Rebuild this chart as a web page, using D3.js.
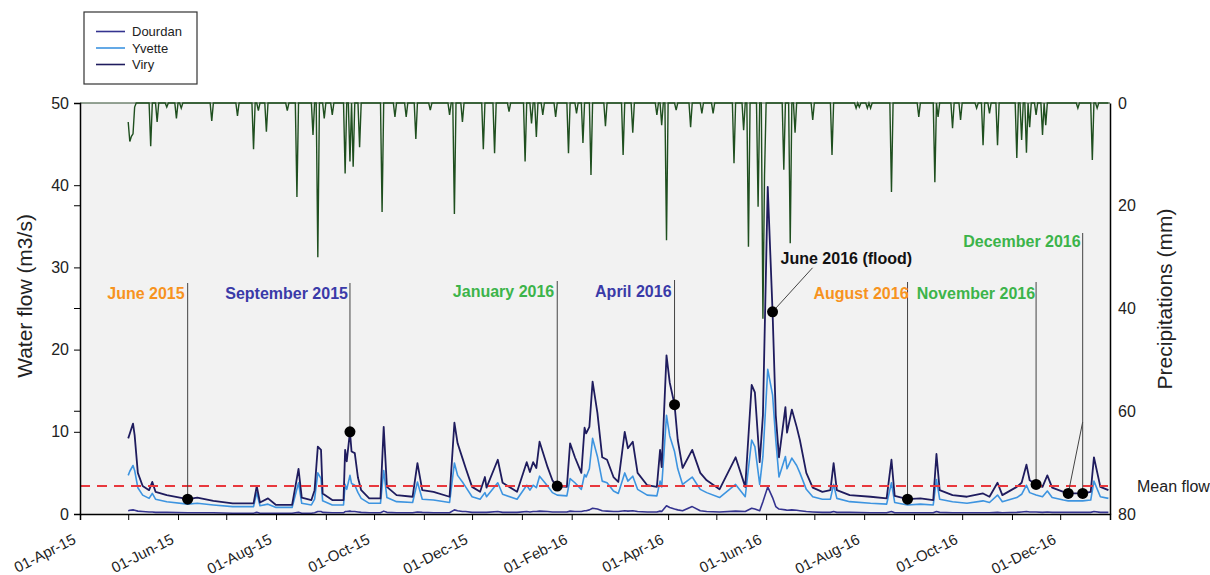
<!DOCTYPE html>
<html>
<head>
<meta charset="utf-8">
<script src="https://cdn.jsdelivr.net/npm/d3@7"></script>
<style>
  body { margin: 0; background: #fff; }
  svg { font-family: Arial, "Liberation Sans", sans-serif; }
</style>
</head>
<body>
<div id="my_dataviz"></div>
<script>
// ---- data ----
var flowDates = [
  "2015-05-01","2015-05-02","2015-05-04","2015-05-05","2015-05-07","2015-05-10","2015-05-14","2015-05-16","2015-05-18","2015-05-25",
  "2015-06-07","2015-06-13","2015-06-23","2015-07-05","2015-07-18","2015-07-20","2015-07-22","2015-07-27","2015-08-01","2015-08-11",
  "2015-08-15","2015-08-17","2015-08-23","2015-08-25","2015-08-27","2015-08-29","2015-08-30","2015-09-05","2015-09-12","2015-09-13",
  "2015-09-14","2015-09-16","2015-09-17","2015-09-19","2015-09-21","2015-09-23","2015-09-28","2015-10-05","2015-10-07","2015-10-09",
  "2015-10-15","2015-10-25","2015-10-28","2015-10-31","2015-11-07","2015-11-17","2015-11-20","2015-11-22","2015-11-25","2015-11-27",
  "2015-12-01","2015-12-06","2015-12-09","2015-12-10","2015-12-17","2015-12-20","2015-12-29","2016-01-04","2016-01-06","2016-01-08",
  "2016-01-10","2016-01-12","2016-01-17","2016-01-20","2016-01-23","2016-01-29","2016-01-31","2016-02-03","2016-02-07","2016-02-09",
  "2016-02-10","2016-02-12","2016-02-14","2016-02-17","2016-02-20","2016-02-23","2016-02-27","2016-03-01","2016-03-05","2016-03-07",
  "2016-03-10","2016-03-13","2016-03-19","2016-03-25","2016-03-27","2016-03-28","2016-03-31","2016-04-02","2016-04-05","2016-04-07",
  "2016-04-10","2016-04-16","2016-04-21","2016-04-25","2016-05-03","2016-05-13","2016-05-19","2016-05-23","2016-05-25","2016-05-28",
  "2016-05-30","2016-06-02","2016-06-05","2016-06-07","2016-06-09","2016-06-13","2016-06-14","2016-06-17","2016-06-20","2016-06-22",
  "2016-06-26","2016-06-30","2016-07-06","2016-07-11","2016-07-13","2016-07-15","2016-07-23","2016-08-05","2016-08-15","2016-08-18",
  "2016-08-20","2016-08-28","2016-09-05","2016-09-13","2016-09-15","2016-09-17","2016-09-25","2016-10-04","2016-10-14","2016-10-18",
  "2016-10-23","2016-10-26","2016-11-04","2016-11-07","2016-11-10","2016-11-12","2016-11-16","2016-11-20","2016-11-23","2016-11-26",
  "2016-12-03","2016-12-06","2016-12-15","2016-12-20","2016-12-22","2016-12-26","2016-12-31"
];
var viryFlow = [
  9.2,9.8,11.0,9.6,5.0,3.4,2.9,3.9,2.7,2.3,
  1.8,2.0,1.6,1.3,1.3,3.4,1.4,1.9,1.1,1.1,
  5.5,2.0,1.7,2.9,8.2,7.8,2.5,1.7,1.7,7.8,
  6.4,10.0,7.6,7.4,4.4,2.9,1.9,1.9,10.6,3.3,
  2.3,2.1,6.2,2.9,2.7,2.1,11.1,8.6,6.8,5.6,
  3.3,2.7,4.5,3.2,6.6,3.8,2.7,6.3,5.1,6.3,
  5.6,8.8,5.7,4.1,3.4,3.3,8.6,6.9,5.0,10.5,
  9.8,10.6,16.1,12.3,6.9,6.6,4.5,3.9,10.0,8.0,
  8.8,5.0,3.5,3.3,7.8,5.7,19.3,16.0,13.3,9.0,
  5.6,7.8,5.0,4.1,3.0,6.9,3.3,15.7,14.8,6.3,
  12.0,39.8,24.6,12.0,6.9,13.0,9.9,12.7,10.6,9.0,
  5.0,3.2,2.7,2.9,6.2,2.9,2.3,2.1,1.9,6.6,
  2.2,1.8,1.9,1.7,7.3,2.9,2.3,2.1,2.5,2.1,
  3.8,2.3,3.3,3.8,6.0,4.1,3.6,3.3,4.7,3.2,
  2.7,2.5,2.5,2.7,6.9,3.3,2.9
];
var yvetteFlow = [
  4.7,5.2,5.9,5.3,3.2,2.3,1.9,2.5,1.8,1.5,
  1.2,1.3,1.1,0.9,0.9,2.6,1.0,1.2,0.8,0.8,
  3.8,1.3,1.1,1.8,5.0,4.3,1.6,1.1,1.1,3.6,
  3.0,4.7,3.7,3.5,2.6,1.9,1.3,1.3,5.3,2.0,
  1.5,1.4,3.9,1.8,1.7,1.4,6.2,4.7,3.9,3.3,
  2.1,1.8,2.6,2.1,3.8,2.4,1.8,3.5,2.9,3.5,
  3.2,4.6,3.4,2.6,2.3,2.2,4.3,3.8,3.0,4.8,
  4.5,5.5,9.2,7.0,4.0,3.8,2.8,2.5,5.0,4.0,
  4.6,3.0,2.3,2.2,4.0,3.3,12.0,9.5,7.6,5.5,
  3.6,4.5,3.0,2.6,2.0,3.6,2.1,9.0,8.2,3.6,
  7.0,17.6,14.5,9.0,4.5,7.0,5.5,6.8,5.9,5.0,
  3.0,2.1,1.8,1.8,3.6,1.9,1.5,1.3,1.2,3.8,
  1.4,1.1,1.2,1.1,4.2,1.8,1.5,1.3,1.6,1.4,
  2.3,1.5,2.0,2.4,3.5,2.6,2.3,2.1,2.8,2.0,
  1.7,1.6,1.6,1.7,4.0,2.1,1.9
];
var dourdanFlow = [
  0.4,0.45,0.5,0.45,0.35,0.3,0.25,0.25,0.2,0.2,
  0.15,0.15,0.15,0.1,0.1,0.2,0.1,0.1,0.1,0.1,
  0.2,0.1,0.1,0.15,0.3,0.3,0.2,0.15,0.15,0.3,
  0.3,0.35,0.3,0.3,0.25,0.2,0.15,0.15,0.35,0.2,
  0.15,0.15,0.25,0.2,0.15,0.15,0.5,0.4,0.3,0.3,
  0.2,0.2,0.2,0.2,0.3,0.2,0.2,0.3,0.25,0.3,
  0.3,0.35,0.3,0.25,0.25,0.25,0.35,0.3,0.3,0.4,
  0.4,0.5,0.7,0.6,0.4,0.35,0.3,0.3,0.4,0.35,
  0.4,0.3,0.25,0.25,0.35,0.3,1.0,0.8,0.6,0.5,
  0.4,0.9,0.4,0.3,0.25,0.35,0.3,0.7,0.6,0.4,
  1.5,3.3,2.0,0.9,0.6,0.5,0.45,0.5,0.45,0.4,
  0.3,0.25,0.2,0.2,0.3,0.2,0.2,0.15,0.15,0.3,
  0.15,0.15,0.15,0.15,0.3,0.2,0.15,0.15,0.15,0.15,
  0.2,0.15,0.2,0.25,0.3,0.25,0.25,0.2,0.25,0.2,
  0.2,0.2,0.2,0.2,0.3,0.2,0.2
];

// daily rainfall (only rainy days listed)
var rainDates = [
  "2015-05-01","2015-05-02","2015-05-03","2015-05-04","2015-05-05","2015-05-15","2015-05-19","2015-05-25","2015-05-31","2015-06-03",
  "2015-06-22","2015-07-08","2015-07-18","2015-07-21","2015-07-26","2015-08-08","2015-08-14","2015-08-24","2015-08-27","2015-08-31",
  "2015-09-05","2015-09-13","2015-09-16","2015-09-18","2015-09-22","2015-10-06","2015-10-14","2015-10-21","2015-10-27","2015-11-05",
  "2015-11-17","2015-11-20","2015-11-25","2015-12-08","2015-12-15","2015-12-24","2016-01-03","2016-01-07","2016-01-10","2016-01-14",
  "2016-01-22","2016-01-30","2016-02-04","2016-02-08","2016-02-13","2016-02-22","2016-03-04","2016-03-10","2016-03-25","2016-03-28",
  "2016-03-31","2016-04-06","2016-04-15","2016-04-22","2016-04-29","2016-05-12","2016-05-18","2016-05-21","2016-05-27","2016-05-30",
  "2016-05-31","2016-06-12","2016-06-16","2016-06-19","2016-06-30","2016-07-12","2016-07-27","2016-07-29","2016-08-03","2016-08-05",
  "2016-08-18","2016-09-04","2016-09-14","2016-09-16","2016-09-25","2016-09-30","2016-10-10","2016-10-14","2016-10-18","2016-10-23",
  "2016-11-04","2016-11-07","2016-11-10","2016-11-12","2016-11-16","2016-11-20","2016-11-22","2016-12-12","2016-12-21","2016-12-24"
];
var rainMm = [
  3.7,7.5,6.5,6.0,0.8,8.4,3.7,0.8,3.0,1.0,
  3.5,2.5,9.0,1.5,5.6,1.5,18.3,6.2,30.0,3.0,
  2.3,13.7,11.4,12.4,8.6,21.2,2.7,2.7,7.0,1.4,
  2.3,21.6,3.7,9.0,9.8,1.7,11.4,4.0,6.6,2.3,
  2.7,9.8,2.0,7.8,14.0,4.5,10.1,5.8,2.3,4.3,
  26.7,1.4,4.7,2.0,2.0,11.7,5.3,28.0,20.2,42.0,
  14.0,13.0,27.3,5.8,3.3,10.1,1.0,0.8,1.0,1.0,
  17.3,2.7,15.4,2.7,4.9,3.3,1.0,8.2,2.0,8.2,
  10.7,7.2,9.7,4.7,2.3,6.2,4.3,1.0,11.1,1.0
];

var meanFlow = 3.4;
var flowTicks = [0, 10, 20, 30, 40, 50];
var rainTicks = [0, 20, 40, 60, 80];

var seriesNames = ["Dourdan", "Yvette", "Viry"];
var seriesColors = ["#34338f", "#3d94e0", "#1f1c5e"];

var annLabels = ["June 2015", "September 2015", "January 2016", "April 2016",
                 "June 2016 (flood)", "August 2016", "November 2016", "December 2016"];
var annDates = ["2015-06-07", "2015-09-16", "2016-01-23", "2016-04-05",
                "2016-06-05", "2016-08-28", "2016-11-16", "2016-12-15"];
var annFlows = [1.8, 10.0, 3.4, 13.3, 24.6, 1.8, 3.6, 2.5];
var annColors = ["#f7931e", "#3a3aa8", "#3cb44a", "#3a3aa8",
                 "#111111", "#f7931e", "#3cb44a", "#3cb44a"];
var extraDotDate = "2016-12-06", extraDotFlow = 2.5;

// ---- layout ----
var margin = {top: 103, right: 100, bottom: 61, left: 80},
    width = 1210 - margin.left - margin.right,
    height = 575 - margin.top - margin.bottom;

var parseDate = d3.timeParse("%Y-%m-%d"),
    fmtDate = d3.timeFormat("%Y-%m-%d"),
    fmtTick = d3.timeFormat("%d-%b-%y");

var svg = d3.select("#my_dataviz")
  .append("svg")
    .attr("width", width + margin.left + margin.right)
    .attr("height", height + margin.top + margin.bottom)
  .append("g")
    .attr("transform", "translate(" + margin.left + "," + margin.top + ")");

var x = d3.scaleTime()
  .domain([new Date(2015, 3, 1), new Date(2017, 0, 1)])
  .range([0, width]);
var y = d3.scaleLinear().domain([0, 50]).range([height, 0]);
var yRain = d3.scaleLinear().domain([0, 80]).range([0, height]);

// plot background
svg.append("rect")
  .attr("width", width).attr("height", height)
  .attr("fill", "#f2f2f2");

// precipitation (hanging from the top)
var rainByDay = {};
rainDates.forEach(function(d, i) { rainByDay[d] = rainMm[i]; });
var rainSeries = d3.timeDay.range(parseDate("2015-05-01"), parseDate("2017-01-01"))
  .map(function(d) { return {date: d, mm: rainByDay[fmtDate(d)] || 0}; });

svg.append("line")
  .attr("x1", 0).attr("x2", width).attr("y1", 0).attr("y2", 0)
  .attr("stroke", "#2c4a2c").attr("stroke-width", 1.2);

svg.append("path")
  .datum(rainSeries)
  .attr("fill", "none")
  .attr("stroke", "#1f4f1f")
  .attr("stroke-width", 1.4)
  .attr("d", d3.line()
    .x(function(d) { return x(d.date); })
    .y(function(d) { return yRain(d.mm); }));

// flow lines
var flowValues = [dourdanFlow, yvetteFlow, viryFlow];
flowValues.forEach(function(vals, s) {
  svg.append("path")
    .datum(flowDates.map(function(d, i) { return {date: parseDate(d), v: vals[i]}; }))
    .attr("fill", "none")
    .attr("stroke", seriesColors[s])
    .attr("stroke-width", s === 2 ? 1.8 : 1.6)
    .attr("stroke-linejoin", "round")
    .attr("d", d3.line()
      .x(function(d) { return x(d.date); })
      .y(function(d) { return y(d.v); }));
});

// mean flow
svg.append("line")
  .attr("x1", 0).attr("x2", width - 2)
  .attr("y1", y(meanFlow)).attr("y2", y(meanFlow))
  .attr("stroke", "#e8383d").attr("stroke-width", 2)
  .attr("stroke-dasharray", "10,7");
svg.append("text")
  .attr("x", width + 27).attr("y", y(meanFlow) + 6)
  .attr("font-size", "16px").attr("fill", "#222")
  .text("Mean flow");

// annotations
var layout = [
  {dx: -3, ty: 196, top: 180},
  {dx: -2, ty: 196, top: 180},
  {dx: -3, ty: 194, top: 178},
  {dx: -3, ty: 194, top: 177},
  {dx: 8,  ty: 161, diag: [40, -44]},
  {dx: 1,  ty: 196, top: 179},
  {dx: -1, ty: 196, top: 179},
  {dx: -2, ty: 144, top: 130}
];

annLabels.forEach(function(lab, i) {
  var px = x(parseDate(annDates[i])), py = y(annFlows[i]), L = layout[i];
  if (L.diag) {
    svg.append("line")
      .attr("x1", px + L.diag[0]).attr("y1", py + L.diag[1])
      .attr("x2", px).attr("y2", py)
      .attr("stroke", "#444").attr("stroke-width", 1);
    svg.append("text")
      .attr("x", px + L.dx).attr("y", L.ty)
      .attr("font-size", "16px").attr("font-weight", "bold")
      .attr("fill", annColors[i]).text(lab);
  } else {
    svg.append("line")
      .attr("x1", px).attr("x2", px).attr("y1", L.top).attr("y2", py)
      .attr("stroke", "#444").attr("stroke-width", 1);
    svg.append("text")
      .attr("x", px + L.dx).attr("y", L.ty)
      .attr("text-anchor", "end")
      .attr("font-size", "16px").attr("font-weight", "bold")
      .attr("fill", annColors[i]).text(lab);
  }
});

// second December dot with its slanted leader
var decX = x(parseDate(annDates[7]));
svg.append("line")
  .attr("x1", decX).attr("y1", 319)
  .attr("x2", x(parseDate(extraDotDate))).attr("y2", y(extraDotFlow))
  .attr("stroke", "#444").attr("stroke-width", 1);

var dots = annDates.map(function(d, i) { return {date: d, v: annFlows[i]}; })
  .concat([{date: extraDotDate, v: extraDotFlow}]);
svg.selectAll("circle.ann")
  .data(dots)
  .enter().append("circle")
    .attr("class", "ann")
    .attr("cx", function(d) { return x(parseDate(d.date)); })
    .attr("cy", function(d) { return y(d.v); })
    .attr("r", 5.5)
    .attr("fill", "#000");

// axes
var xAxis = svg.append("g")
  .attr("transform", "translate(0," + height + ")")
  .call(d3.axisBottom(x)
    .ticks(d3.timeMonth.every(1))
    .tickSize(6)
    .tickFormat(function(d) { return d.getMonth() % 2 === 1 ? fmtTick(d) : ""; }));
xAxis.selectAll("text")
  .attr("x", 0).attr("y", 0).attr("dy", "0.35em")
  .attr("text-anchor", "end")
  .attr("transform", "translate(-6,24) rotate(-27)")
  .attr("font-size", "15px").attr("fill", "#222");

var yAxis = svg.append("g")
  .call(d3.axisLeft(y).tickValues(flowTicks).tickSize(6).tickPadding(5));
yAxis.selectAll("text").attr("font-size", "16px").attr("fill", "#222");
// small ticks matching the precipitation scale
yAxis.selectAll("line.minor")
  .data(rainTicks.slice(1, 4))
  .enter().append("line")
    .attr("class", "minor")
    .attr("x1", -6).attr("x2", 0)
    .attr("y1", function(d) { return yRain(d); })
    .attr("y2", function(d) { return yRain(d); })
    .attr("stroke", "#000");

var yAxisR = svg.append("g")
  .attr("transform", "translate(" + width + ",0)")
  .call(d3.axisRight(yRain).tickValues(rainTicks).tickSize(0).tickPadding(8));
yAxisR.selectAll("text").attr("font-size", "16px").attr("fill", "#222");

[xAxis, yAxis, yAxisR].forEach(function(a) {
  a.select(".domain").attr("stroke", "#000").attr("stroke-width", 1.5);
});

// axis titles
svg.append("text")
  .attr("transform", "translate(" + (25 - margin.left) + "," + (296 - margin.top) + ") rotate(-90)")
  .attr("text-anchor", "middle").attr("dy", "0.35em")
  .attr("font-size", "21px").attr("fill", "#222")
  .text("Water flow (m3/s)");
svg.append("text")
  .attr("transform", "translate(" + (1165 - margin.left) + "," + (299 - margin.top) + ") rotate(-90)")
  .attr("text-anchor", "middle").attr("dy", "0.35em")
  .attr("font-size", "21px").attr("fill", "#222")
  .text("Precipitations (mm)");

// legend
var legend = d3.select("#my_dataviz svg").append("g")
  .attr("transform", "translate(84,12)");
legend.append("rect")
  .attr("width", 113).attr("height", 72)
  .attr("fill", "#fff").attr("stroke", "#333").attr("stroke-width", 1.2);
seriesNames.forEach(function(name, i) {
  var ly = 19.5 + i * 16.5;
  legend.append("line")
    .attr("x1", 12).attr("x2", 41).attr("y1", ly).attr("y2", ly)
    .attr("stroke", seriesColors[i]).attr("stroke-width", 1.6);
  legend.append("text")
    .attr("x", 48).attr("y", ly).attr("dy", "0.35em")
    .attr("font-size", "13px").attr("fill", "#222")
    .text(name);
});
</script>
</body>
</html>
